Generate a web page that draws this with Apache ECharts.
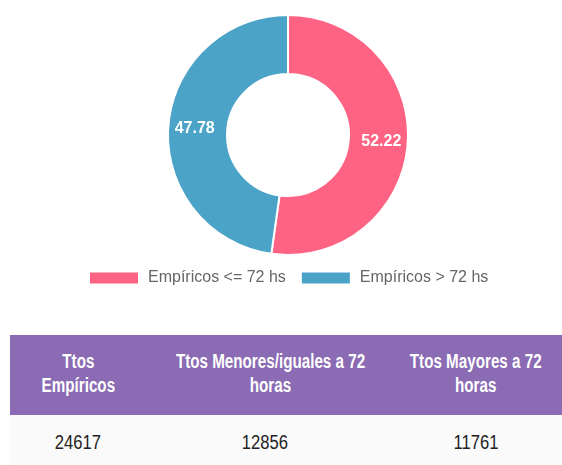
<!DOCTYPE html>
<html>
<head>
<meta charset="utf-8">
<script src="https://cdn.jsdelivr.net/npm/echarts@6/dist/echarts.min.js"></script>
<style>
  html, body { margin: 0; padding: 0; background: #fff; overflow: hidden; }
  #chart { width: 562px; height: 305px; }
  #tabla {
    position: absolute; left: 10px; top: 335px; width: 558px;
    border-collapse: collapse; table-layout: fixed;
    font-family: "Liberation Sans", Arial, sans-serif;
  }
  #tabla th {
    background: #8a6bb4; color: #fff; font-weight: bold; font-size: 20px;
    line-height: 24px; height: 80px; padding: 0 0 4px 0; text-align: center;
    box-sizing: border-box;
  }
  #tabla td {
    background: #fafafa; color: #222; font-size: 20px; line-height: 24px;
    height: 60px; padding: 15px 0 0 0; text-align: center; vertical-align: top;
    box-sizing: border-box;
  }
  /* letra angosta: Arial comprimida */
  #tabla span { display: inline-block; white-space: pre; }
  #tabla th span { transform: scaleX(0.76); }
  #tabla td span { transform: scaleX(0.83); }
</style>
</head>
<body>
<div id="chart"></div>
<table id="tabla"><colgroup><col style="width:136px"><col style="width:238px"><col style="width:184px"></colgroup><thead><tr></tr></thead><tbody><tr></tr></tbody></table>
<script>
const categorias = ["Empíricos <= 72 hs", "Empíricos > 72 hs"];
const porcentajes = [52.22, 47.78];
const colores = ["#ff6384", "#4ba3c8"];

const encabezados = ["Ttos\nEmpíricos", "Ttos Menores/iguales a 72\nhoras", "Ttos Mayores a 72\nhoras"];
const totales = [24617, 12856, 11761];

const myChart = echarts.init(document.getElementById("chart"));

const option = {
  animation: false,
  color: colores,
  legend: {
    data: categorias,
    top: 265,
    left: 83,
    itemWidth: 50,
    itemHeight: 13,
    itemGap: 14,
    icon: "rect",
    selectedMode: false,
    textStyle: {
      color: "#666",
      fontSize: 16,
      fontFamily: "Liberation Sans, Arial, sans-serif",
      padding: [0, 0, 0, 4]
    }
  },
  series: [
    {
      type: "pie",
      center: [288, 135],
      radius: [61, 120],
      startAngle: 90,
      clockwise: true,
      silent: true,
      itemStyle: { borderColor: "#fff", borderWidth: 2 },
      label: {
        show: true,
        position: "inside",
        color: "#fff",
        fontSize: 16,
        fontWeight: "bold",
        fontFamily: "Liberation Sans, Arial, sans-serif",
        formatter: (p) => p.value.toFixed(2)
      },
      labelLine: { show: false },
      data: categorias.map((name, i) => ({ name, value: porcentajes[i] }))
    }
  ]
};

myChart.setOption(option);

// tabla de totales
const celda = (tag, texto) => {
  const el = document.createElement(tag);
  const sp = document.createElement("span");
  sp.textContent = texto;
  el.appendChild(sp);
  return el;
};
const filaHead = document.querySelector("#tabla thead tr");
encabezados.forEach((t) => filaHead.appendChild(celda("th", t)));
const filaBody = document.querySelector("#tabla tbody tr");
totales.forEach((v) => filaBody.appendChild(celda("td", String(v))));
</script>
</body>
</html>
